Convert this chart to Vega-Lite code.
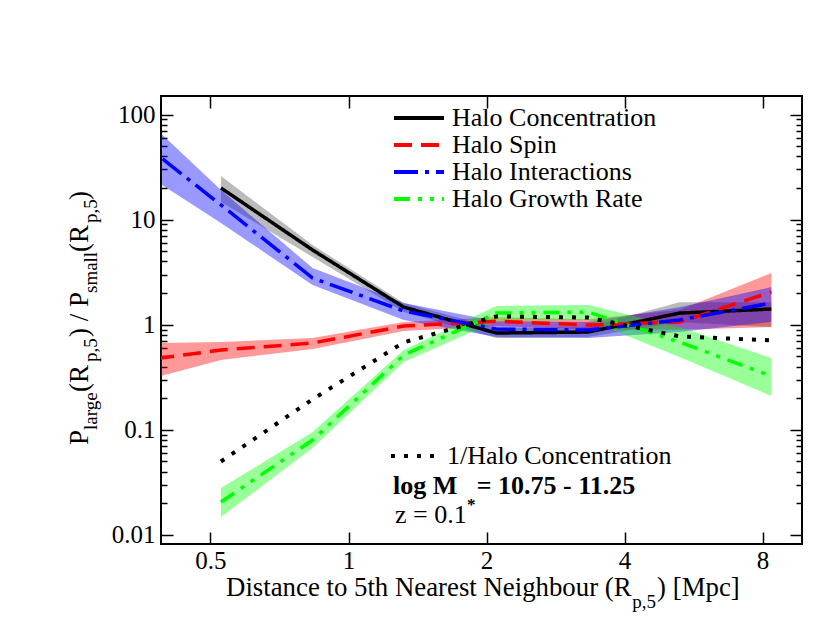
{
  "$schema": "https://vega.github.io/schema/vega-lite/v6.json",
  "description": "Ratio of large to small halo property populations vs distance to 5th nearest neighbour.",
  "width": 641,
  "height": 448,
  "autosize": {"type": "none"},
  "padding": {"left": 161, "top": 96, "right": 28, "bottom": 98},
  "background": "white",
  "config": {
    "view": {"stroke": "black", "strokeWidth": 2},
    "axis": {
      "domain": false, "grid": false, "tickColor": "black", "tickWidth": 1.5,
      "labelFont": "Liberation Serif", "labelFontSize": 25, "labelColor": "black", "title": null
    },
    "legend": {
      "orient": "none", "padding": 0, "title": null, "symbolType": "stroke",
      "labelFont": "Liberation Serif", "labelFontSize": 26, "labelColor": "black", "labelLimit": 0,
      "symbolStrokeWidth": 4, "labelOffset": 6, "rowPadding": 1, "clipHeight": 26
    },
    "text": {"font": "Liberation Serif", "color": "black", "align": "left", "baseline": "alphabetic", "clip": false}
  },
  "datasets": {
    "ratios": [
      {"series": "Halo Concentration", "x": 0.527, "y": 20.0, "lo": 14.7, "hi": 26.0},
      {"series": "Halo Concentration", "x": 0.835, "y": 5.14, "lo": 4.41, "hi": 5.73},
      {"series": "Halo Concentration", "x": 1.32, "y": 1.47, "lo": 1.32, "hi": 1.61},
      {"series": "Halo Concentration", "x": 2.10, "y": 0.834, "lo": 0.747, "hi": 0.93},
      {"series": "Halo Concentration", "x": 3.33, "y": 0.852, "lo": 0.765, "hi": 0.95},
      {"series": "Halo Concentration", "x": 5.27, "y": 1.29, "lo": 1.06, "hi": 1.64},
      {"series": "Halo Concentration", "x": 8.36, "y": 1.41, "lo": 0.95, "hi": 1.64},
      {"series": "Halo Spin", "x": 0.333, "y": 0.442, "lo": 0.270, "hi": 0.663},
      {"series": "Halo Spin", "x": 0.527, "y": 0.574, "lo": 0.461, "hi": 0.684},
      {"series": "Halo Spin", "x": 0.835, "y": 0.670, "lo": 0.587, "hi": 0.747},
      {"series": "Halo Spin", "x": 1.32, "y": 0.972, "lo": 0.871, "hi": 1.06},
      {"series": "Halo Spin", "x": 2.10, "y": 1.08, "lo": 0.97, "hi": 1.18},
      {"series": "Halo Spin", "x": 3.33, "y": 0.993, "lo": 0.91, "hi": 1.13},
      {"series": "Halo Spin", "x": 5.27, "y": 1.06, "lo": 0.898, "hi": 1.38},
      {"series": "Halo Spin", "x": 8.36, "y": 2.05, "lo": 0.95, "hi": 3.10},
      {"series": "Halo Interactions", "x": 0.333, "y": 66.7, "lo": 33.8, "hi": 125.9},
      {"series": "Halo Interactions", "x": 0.527, "y": 13.8, "lo": 9.28, "hi": 19.1},
      {"series": "Halo Interactions", "x": 0.835, "y": 2.78, "lo": 2.39, "hi": 3.46},
      {"series": "Halo Interactions", "x": 1.32, "y": 1.35, "lo": 1.11, "hi": 1.61},
      {"series": "Halo Interactions", "x": 2.10, "y": 0.91, "lo": 0.764, "hi": 1.08},
      {"series": "Halo Interactions", "x": 3.33, "y": 0.89, "lo": 0.747, "hi": 1.06},
      {"series": "Halo Interactions", "x": 5.27, "y": 1.11, "lo": 0.852, "hi": 1.47},
      {"series": "Halo Interactions", "x": 8.36, "y": 1.61, "lo": 1.06, "hi": 2.28},
      {"series": "Halo Growth Rate", "x": 0.527, "y": 0.0206, "lo": 0.0148, "hi": 0.0279},
      {"series": "Halo Growth Rate", "x": 0.835, "y": 0.080, "lo": 0.0671, "hi": 0.0953},
      {"series": "Halo Growth Rate", "x": 1.32, "y": 0.515, "lo": 0.442, "hi": 0.574},
      {"series": "Halo Growth Rate", "x": 2.10, "y": 1.29, "lo": 1.08, "hi": 1.51},
      {"series": "Halo Growth Rate", "x": 3.33, "y": 1.32, "lo": 1.11, "hi": 1.54},
      {"series": "Halo Growth Rate", "x": 5.27, "y": 0.684, "lo": 0.493, "hi": 0.95},
      {"series": "Halo Growth Rate", "x": 8.36, "y": 0.325, "lo": 0.21, "hi": 0.482},
      {"series": "1/Halo Concentration", "x": 0.527, "y": 0.050},
      {"series": "1/Halo Concentration", "x": 0.835, "y": 0.195},
      {"series": "1/Halo Concentration", "x": 1.32, "y": 0.68},
      {"series": "1/Halo Concentration", "x": 2.10, "y": 1.20},
      {"series": "1/Halo Concentration", "x": 3.33, "y": 1.17},
      {"series": "1/Halo Concentration", "x": 5.27, "y": 0.775},
      {"series": "1/Halo Concentration", "x": 8.36, "y": 0.71}
    ],
    "anchor": [{}]
  },
  "layer": [
    {
      "data": {"name": "ratios"},
      "transform": [{"filter": "isValid(datum.lo)"}],
      "mark": {"type": "area", "opacity": 0.4, "clip": true},
      "encoding": {
        "x": {"field": "x", "type": "quantitative", "scale": {"type": "log", "domain": [0.39, 9.75], "nice": false},
          "axis": {"orient": "bottom", "values": [0.5, 1, 2, 4, 8], "format": "~g", "tickSize": -12, "labelPadding": 16}},
        "y": {"field": "lo", "type": "quantitative", "scale": {"type": "log", "domain": [0.0082, 150], "nice": false},
          "axis": {"orient": "left",
            "values": [0.01, 0.02, 0.03, 0.04, 0.05, 0.06, 0.07, 0.08, 0.09, 0.1, 0.2, 0.3, 0.4, 0.5, 0.6, 0.7, 0.8, 0.9, 1, 2, 3, 4, 5, 6, 7, 8, 9, 10, 20, 30, 40, 50, 60, 70, 80, 90, 100],
            "tickSize": {"condition": {"test": "abs(log(datum.value)/LN10 - round(log(datum.value)/LN10)) < 0.001", "value": -12}, "value": -6},
            "labelExpr": "abs(log(datum.value)/LN10 - round(log(datum.value)/LN10)) < 0.001 ? format(datum.value, '~g') : ''",
            "labelPadding": 18}},
        "y2": {"field": "hi"},
        "color": {"field": "series", "type": "nominal", "legend": null,
          "scale": {"domain": ["Halo Concentration", "Halo Spin", "Halo Interactions", "Halo Growth Rate"], "range": ["#555555", "#ff0000", "#0000ff", "#00ff00"]}},
        "detail": {"field": "series"}
      }
    },
    {
      "data": {"name": "ratios"},
      "transform": [{"filter": "datum.series !== '1/Halo Concentration'"}],
      "mark": {"type": "line", "strokeWidth": 3.5, "strokeCap": "butt", "clip": true},
      "encoding": {
        "x": {"field": "x", "type": "quantitative", "scale": {"type": "log", "domain": [0.39, 9.75], "nice": false},
          "axis": {"orient": "top", "values": [0.5, 1, 2, 4, 8], "labels": false, "tickSize": -12}},
        "y": {"field": "y", "type": "quantitative", "scale": {"type": "log", "domain": [0.0082, 150], "nice": false},
          "axis": {"orient": "right",
            "values": [0.01, 0.02, 0.03, 0.04, 0.05, 0.06, 0.07, 0.08, 0.09, 0.1, 0.2, 0.3, 0.4, 0.5, 0.6, 0.7, 0.8, 0.9, 1, 2, 3, 4, 5, 6, 7, 8, 9, 10, 20, 30, 40, 50, 60, 70, 80, 90, 100],
            "tickSize": {"condition": {"test": "abs(log(datum.value)/LN10 - round(log(datum.value)/LN10)) < 0.001", "value": -12}, "value": -6},
            "labels": false}},
        "color": {"field": "series", "type": "nominal",
          "scale": {"domain": ["Halo Concentration", "Halo Spin", "Halo Interactions", "Halo Growth Rate"], "range": ["#000000", "#ff0000", "#0000ff", "#00ff00"]},
          "legend": {"legendX": 231, "legendY": 9, "symbolSize": 2500}},
        "strokeDash": {"field": "series", "type": "nominal",
          "scale": {"domain": ["Halo Concentration", "Halo Spin", "Halo Interactions", "Halo Growth Rate"], "range": [[1, 0], [18, 9], [24, 7, 4, 7], [16, 8, 4, 8, 4, 8]]},
          "legend": {"legendX": 231, "legendY": 9, "symbolSize": 2500}}
      }
    },
    {
      "data": {"name": "ratios"},
      "transform": [{"filter": "datum.series === '1/Halo Concentration'"}],
      "mark": {"type": "line", "strokeWidth": 4, "strokeCap": "butt", "clip": true},
      "encoding": {
        "x": {"field": "x", "type": "quantitative", "scale": {"type": "log", "domain": [0.39, 9.75], "nice": false}, "axis": null},
        "y": {"field": "y", "type": "quantitative", "scale": {"type": "log", "domain": [0.0082, 150], "nice": false}, "axis": null},
        "color": {"field": "series", "type": "nominal",
          "scale": {"domain": ["1/Halo Concentration"], "range": ["#000000"]},
          "legend": {"legendX": 228, "legendY": 347, "symbolSize": 2304}},
        "strokeDash": {"field": "series", "type": "nominal",
          "scale": {"domain": ["1/Halo Concentration"], "range": [[4, 9]]},
          "legend": {"legendX": 228, "legendY": 347, "symbolSize": 2304}}
      }
    },
    {"data": {"name": "anchor"},
     "mark": {"type": "text", "text": "P", "fontSize": 27, "angle": 270},
     "encoding": {"x": {"datum": 0.2702, "type": "quantitative", "scale": {"type": "log", "domain": [0.39, 9.75], "nice": false}, "axis": null},
                  "y": {"datum": 0.0717, "type": "quantitative", "scale": {"type": "log", "domain": [0.0082, 150], "nice": false}, "axis": null}}},
    {"data": {"name": "anchor"},
     "mark": {"type": "text", "text": "large", "fontSize": 19, "angle": 270},
     "encoding": {"x": {"datum": 0.2827, "type": "quantitative", "scale": {"type": "log", "domain": [0.39, 9.75], "nice": false}, "axis": null},
                  "y": {"datum": 0.0996, "type": "quantitative", "scale": {"type": "log", "domain": [0.0082, 150], "nice": false}, "axis": null}}},
    {"data": {"name": "anchor"},
     "mark": {"type": "text", "text": "(R", "fontSize": 27, "angle": 270},
     "encoding": {"x": {"datum": 0.2702, "type": "quantitative", "scale": {"type": "log", "domain": [0.39, 9.75], "nice": false}, "axis": null},
                  "y": {"datum": 0.229, "type": "quantitative", "scale": {"type": "log", "domain": [0.0082, 150], "nice": false}, "axis": null}}},
    {"data": {"name": "anchor"},
     "mark": {"type": "text", "text": "p,5", "fontSize": 19, "angle": 270},
     "encoding": {"x": {"datum": 0.2827, "type": "quantitative", "scale": {"type": "log", "domain": [0.39, 9.75], "nice": false}, "axis": null},
                  "y": {"datum": 0.4416, "type": "quantitative", "scale": {"type": "log", "domain": [0.0082, 150], "nice": false}, "axis": null}}},
    {"data": {"name": "anchor"},
     "mark": {"type": "text", "text": ") / P", "fontSize": 27, "angle": 270},
     "encoding": {"x": {"datum": 0.2702, "type": "quantitative", "scale": {"type": "log", "domain": [0.39, 9.75], "nice": false}, "axis": null},
                  "y": {"datum": 0.7635, "type": "quantitative", "scale": {"type": "log", "domain": [0.0082, 150], "nice": false}, "axis": null}}},
    {"data": {"name": "anchor"},
     "mark": {"type": "text", "text": "small", "fontSize": 19, "angle": 270},
     "encoding": {"x": {"datum": 0.2827, "type": "quantitative", "scale": {"type": "log", "domain": [0.39, 9.75], "nice": false}, "axis": null},
                  "y": {"datum": 2.003, "type": "quantitative", "scale": {"type": "log", "domain": [0.0082, 150], "nice": false}, "axis": null}}},
    {"data": {"name": "anchor"},
     "mark": {"type": "text", "text": "(R", "fontSize": 27, "angle": 270},
     "encoding": {"x": {"datum": 0.2702, "type": "quantitative", "scale": {"type": "log", "domain": [0.39, 9.75], "nice": false}, "axis": null},
                  "y": {"datum": 4.919, "type": "quantitative", "scale": {"type": "log", "domain": [0.0082, 150], "nice": false}, "axis": null}}},
    {"data": {"name": "anchor"},
     "mark": {"type": "text", "text": "p,5", "fontSize": 19, "angle": 270},
     "encoding": {"x": {"datum": 0.2827, "type": "quantitative", "scale": {"type": "log", "domain": [0.39, 9.75], "nice": false}, "axis": null},
                  "y": {"datum": 9.28, "type": "quantitative", "scale": {"type": "log", "domain": [0.0082, 150], "nice": false}, "axis": null}}},
    {"data": {"name": "anchor"},
     "mark": {"type": "text", "text": ")", "fontSize": 27, "angle": 270},
     "encoding": {"x": {"datum": 0.2702, "type": "quantitative", "scale": {"type": "log", "domain": [0.39, 9.75], "nice": false}, "axis": null},
                  "y": {"datum": 15.37, "type": "quantitative", "scale": {"type": "log", "domain": [0.0082, 150], "nice": false}, "axis": null}}},
    {"data": {"name": "anchor"},
     "mark": {"type": "text", "text": "Distance to 5th Nearest Neighbour (R", "fontSize": 26.8},
     "encoding": {"x": {"datum": 0.5406, "type": "quantitative", "scale": {"type": "log", "domain": [0.39, 9.75], "nice": false}, "axis": null},
                  "y": {"datum": 0.002626, "type": "quantitative", "scale": {"type": "log", "domain": [0.0082, 150], "nice": false}, "axis": null}}},
    {"data": {"name": "anchor"},
     "mark": {"type": "text", "text": "p,5", "fontSize": 19},
     "encoding": {"x": {"datum": 4.155, "type": "quantitative", "scale": {"type": "log", "domain": [0.39, 9.75], "nice": false}, "axis": null},
                  "y": {"datum": 0.002018, "type": "quantitative", "scale": {"type": "log", "domain": [0.0082, 150], "nice": false}, "axis": null}}},
    {"data": {"name": "anchor"},
     "mark": {"type": "text", "text": ") [Mpc]", "fontSize": 26.8},
     "encoding": {"x": {"datum": 4.710, "type": "quantitative", "scale": {"type": "log", "domain": [0.39, 9.75], "nice": false}, "axis": null},
                  "y": {"datum": 0.002626, "type": "quantitative", "scale": {"type": "log", "domain": [0.0082, 150], "nice": false}, "axis": null}}},
    {"data": {"name": "anchor"},
     "mark": {"type": "text", "text": "log M", "fontSize": 26, "fontWeight": "bold"},
     "encoding": {"x": {"datum": 1.2507, "type": "quantitative", "scale": {"type": "log", "domain": [0.39, 9.75], "nice": false}, "axis": null},
                  "y": {"datum": 0.024495, "type": "quantitative", "scale": {"type": "log", "domain": [0.0082, 150], "nice": false}, "axis": null}}},
    {"data": {"name": "anchor"},
     "mark": {"type": "text", "text": "*", "fontSize": 17, "fontWeight": "bold"},
     "encoding": {"x": {"datum": 1.8136, "type": "quantitative", "scale": {"type": "log", "domain": [0.39, 9.75], "nice": false}, "axis": null},
                  "y": {"datum": 0.017259, "type": "quantitative", "scale": {"type": "log", "domain": [0.0082, 150], "nice": false}, "axis": null}}},
    {"data": {"name": "anchor"},
     "mark": {"type": "text", "text": "= 10.75 - 11.25", "fontSize": 26, "fontWeight": "bold"},
     "encoding": {"x": {"datum": 1.9044, "type": "quantitative", "scale": {"type": "log", "domain": [0.39, 9.75], "nice": false}, "axis": null},
                  "y": {"datum": 0.024495, "type": "quantitative", "scale": {"type": "log", "domain": [0.0082, 150], "nice": false}, "axis": null}}},
    {"data": {"name": "anchor"},
     "mark": {"type": "text", "text": "z = 0.1", "fontSize": 26},
     "encoding": {"x": {"datum": 1.2634, "type": "quantitative", "scale": {"type": "log", "domain": [0.39, 9.75], "nice": false}, "axis": null},
                  "y": {"datum": 0.012983, "type": "quantitative", "scale": {"type": "log", "domain": [0.0082, 150], "nice": false}, "axis": null}}}
  ],
  "resolve": {
    "scale": {"color": "independent", "strokeDash": "independent"},
    "axis": {"x": "independent", "y": "independent"}
  }
}
